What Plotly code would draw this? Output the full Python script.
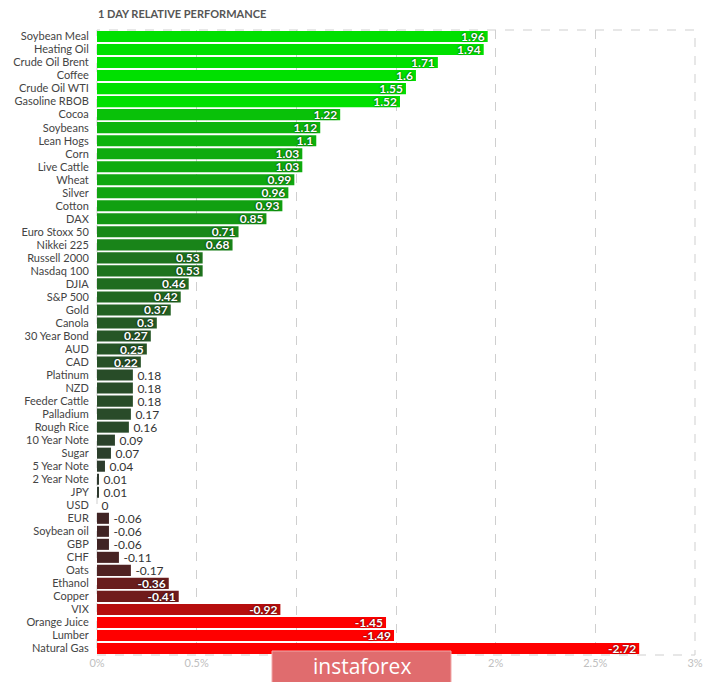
import plotly.graph_objects as go

categories = [
    "Soybean Meal", "Heating Oil", "Crude Oil Brent", "Coffee", "Crude Oil WTI",
    "Gasoline RBOB", "Cocoa", "Soybeans", "Lean Hogs", "Corn", "Live Cattle",
    "Wheat", "Silver", "Cotton", "DAX", "Euro Stoxx 50", "Nikkei 225",
    "Russell 2000", "Nasdaq 100", "DJIA", "S&P 500", "Gold", "Canola",
    "30 Year Bond", "AUD", "CAD", "Platinum", "NZD", "Feeder Cattle",
    "Palladium", "Rough Rice", "10 Year Note", "Sugar", "5 Year Note",
    "2 Year Note", "JPY", "USD", "EUR", "Soybean oil", "GBP", "CHF", "Oats",
    "Ethanol", "Copper", "VIX", "Orange Juice", "Lumber", "Natural Gas",
]
values = [
    1.96, 1.94, 1.71, 1.6, 1.55, 1.52, 1.22, 1.12, 1.1, 1.03, 1.03, 0.99,
    0.96, 0.93, 0.85, 0.71, 0.68, 0.53, 0.53, 0.46, 0.42, 0.37, 0.3, 0.27,
    0.25, 0.22, 0.18, 0.18, 0.18, 0.17, 0.16, 0.09, 0.07, 0.04, 0.01, 0.01,
    0, -0.06, -0.06, -0.06, -0.11, -0.17, -0.36, -0.41, -0.92, -1.45, -1.49,
    -2.72,
]
tick_vals = [0, 0.5, 1, 1.5, 2, 2.5, 3]
tick_text = ["0%", "0.5%", "1%", "1.5%", "2%", "2.5%", "3%"]


def bar_color(v):
    if v >= 0:
        t = min(v / 1.5, 1.0)
        base, full = (46, 56, 46), (0, 224, 0)
    else:
        t = min(-v / 1.45, 1.0)
        base, full = (56, 38, 38), (255, 0, 0)
    c = [round(b + (f - b) * t) for b, f in zip(base, full)]
    return "rgb(%d,%d,%d)" % tuple(c)


lengths = [abs(v) for v in values]
colors = [bar_color(v) for v in values]
positions = ["inside" if abs(v) >= 0.2 else "outside" for v in values]
labels = [("%g" % v) if p == "inside" else "\u2009" + ("%g" % v)
          for v, p in zip(values, positions)]

# page has an 8px body margin: figure is placed at (8, 8)
OFF = 8
W, H = 720 - OFF, 682 - OFF
PL, PR, PT, PB = 97, 695, 30, 655  # plot area in page pixels
PW, PH = PR - PL, PB - PT

fig = go.Figure()
fig.add_trace(go.Bar(
    y=categories,
    x=lengths,
    orientation="h",
    marker=dict(color=colors, line=dict(width=0)),
    text=labels,
    textposition=positions,
    insidetextanchor="end",
    constraintext="none",
    cliponaxis=False,
    insidetextfont=dict(family="Lato", size=12, color="white", weight="bold",
                        shadow="0px 0px 2px rgba(0,0,0,0.9)"),
    outsidetextfont=dict(family="Lato", size=12, color="#333"),
    hoverinfo="skip",
))

fig.update_layout(
    width=W, height=H,
    margin=dict(l=PL - OFF, r=720 - PR, t=PT - OFF, b=682 - PB),
    paper_bgcolor="white",
    plot_bgcolor="white",
    bargap=0.15,
    showlegend=False,
    font=dict(family="Lato", size=11, color="#444"),
    xaxis=dict(
        range=[0, 3], tickvals=tick_vals, ticktext=tick_text,
        showgrid=True, gridcolor="#cfcfcf", griddash="dash", gridwidth=1,
        zeroline=False, showline=False, fixedrange=True, automargin=False,
        tickfont=dict(family="Lato", size=11, color="#c0c0c0"),
    ),
    yaxis=dict(
        autorange="reversed", showgrid=False, zeroline=False, showline=False,
        ticks="outside", ticklen=5, tickcolor="rgba(0,0,0,0)", automargin=False,
        tickfont=dict(family="Lato", size=11, color="#444"),
    ),
    shapes=[
        dict(type="rect", xref="paper", yref="paper", x0=0, x1=1, y0=0, y1=1,
             line=dict(color="#cfcfcf", width=1, dash="dash"), layer="below"),
        dict(type="rect", xref="paper", yref="paper",
             x0=(272 - PL) / PW, x1=(451 - PL) / PW,
             y0=(PB - 686) / PH, y1=(PB - 651) / PH,
             fillcolor="#e06c6e", line=dict(color="#f2a8a8", width=1),
             layer="above"),
    ],
    annotations=[
        dict(text="<b>1 DAY RELATIVE PERFORMANCE</b>", xref="paper", yref="paper",
             x=(96 - PL) / PW, y=1 + (PT - 13) / PH, xanchor="left", yanchor="middle",
             showarrow=False, font=dict(family="Lato", size=11, color="#555")),
        dict(text="instaforex", xref="paper", yref="paper",
             x=(361.5 - PL) / PW, y=(PB - 666) / PH,
             xanchor="center", yanchor="middle", showarrow=False,
             font=dict(family="Open Sans", size=21, color="white")),
    ],
)

fig.write_html("out.html")
